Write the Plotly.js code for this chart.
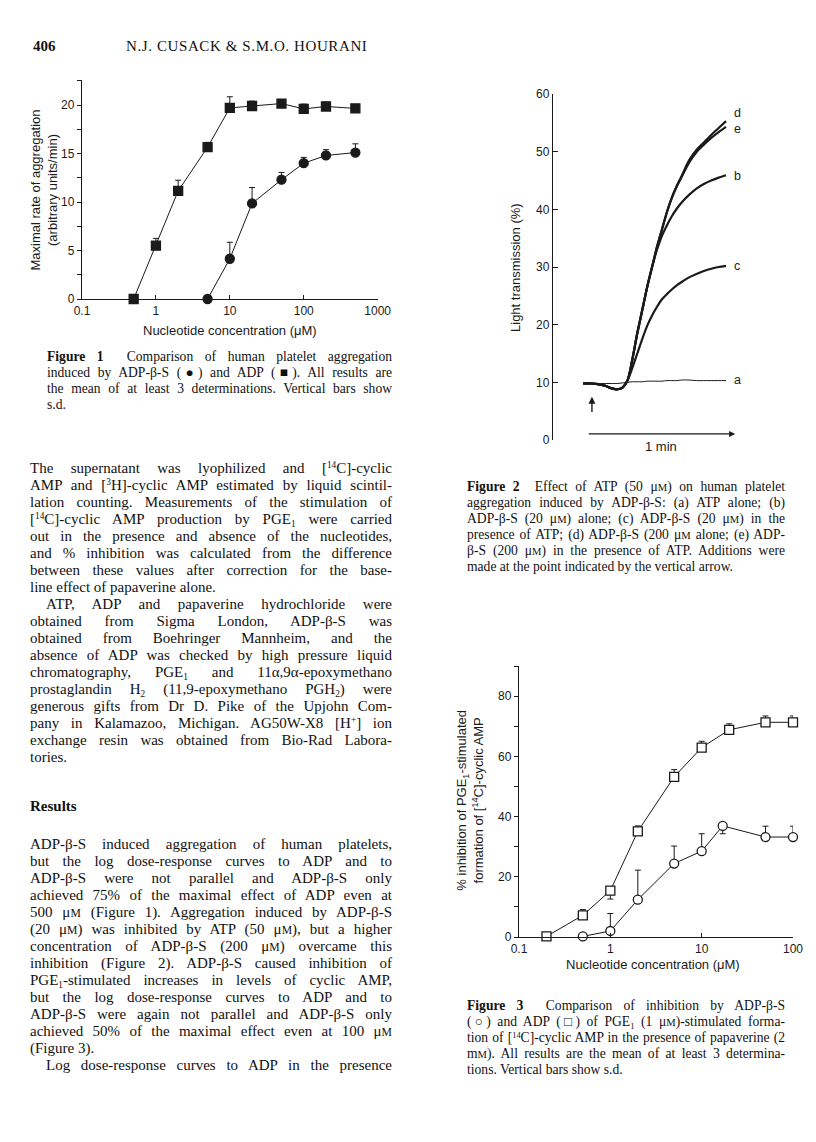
<!DOCTYPE html>
<html>
<head>
<meta charset="utf-8">
<script src="https://cdn.plot.ly/plotly-3.0.1.min.js"></script>
<style>
  body { margin: 0; background: #fff; }
  #page { position: relative; width: 816px; height: 1142px; overflow: hidden; color: #111; }
  .plot { position: absolute; }
  .serif { position: absolute; font-family: "Liberation Serif", "Times New Roman", serif; }
  .body div { height: 17px; line-height: 17px; font-size: 15px; white-space: nowrap; text-align: justify; text-align-last: justify; }
  .cap div { height: 16px; line-height: 16px; font-size: 13.6px; white-space: nowrap; text-align: justify; text-align-last: justify; }
  .serif div.last { text-align-last: left; }
  .serif div.ind { text-indent: 16px; }
  sup, sub { font-size: 0.62em; position: relative; vertical-align: 0; line-height: 0; }
  sup { top: -0.5em; }
  sub { top: 0.3em; }
  b { font-weight: bold; }
  .sc { font-size: 0.78em; }
</style>
</head>
<body>
<div id="page">

  <div class="serif" style="left:33px; top:38px; font-size:15px; font-weight:bold;">406</div>
  <div class="serif" style="left:126px; top:38px; font-size:15px; letter-spacing:0.6px;">N.J. CUSACK &amp; S.M.O. HOURANI</div>

  <div id="fig1" class="plot" style="left:0px; top:60px; width:400px; height:300px;"></div>
  <div id="fig2" class="plot" style="left:430px; top:80px; width:340px; height:380px;"></div>
  <div id="fig3" class="plot" style="left:430px; top:650px; width:380px; height:340px;"></div>

  <div class="serif cap" style="left:47px; top:349px; width:345px;">
    <div><b>Figure 1</b>&nbsp; Comparison of human platelet aggregation</div>
    <div>induced by ADP-β-S (●) and ADP (■). All results are</div>
    <div>the mean of at least 3 determinations. Vertical bars show</div>
    <div class="last">s.d.</div>
  </div>

  <div class="serif body" style="left:30px; top:460px; width:362px;">
    <div>The supernatant was lyophilized and [<sup>14</sup>C]-cyclic</div>
    <div>AMP and [<sup>3</sup>H]-cyclic AMP estimated by liquid scintil-</div>
    <div>lation counting. Measurements of the stimulation of</div>
    <div>[<sup>14</sup>C]-cyclic AMP production by PGE<sub>1</sub> were carried</div>
    <div>out in the presence and absence of the nucleotides,</div>
    <div>and % inhibition was calculated from the difference</div>
    <div>between these values after correction for the base-</div>
    <div class="last">line effect of papaverine alone.</div>
    <div class="ind">ATP, ADP and papaverine hydrochloride were</div>
    <div>obtained from Sigma London, ADP-β-S was</div>
    <div>obtained from Boehringer Mannheim, and the</div>
    <div>absence of ADP was checked by high pressure liquid</div>
    <div>chromatography, PGE<sub>1</sub> and 11α,9α-epoxymethano</div>
    <div>prostaglandin H<sub>2</sub> (11,9-epoxymethano PGH<sub>2</sub>) were</div>
    <div>generous gifts from Dr D. Pike of the Upjohn Com-</div>
    <div>pany in Kalamazoo, Michigan. AG50W-X8 [H<sup>+</sup>] ion</div>
    <div>exchange resin was obtained from Bio-Rad Labora-</div>
    <div class="last">tories.</div>
  </div>

  <div class="serif" style="left:30px; top:798px; font-size:15px; font-weight:bold;">Results</div>

  <div class="serif body" style="left:30px; top:836px; width:362px;">
    <div>ADP-β-S induced aggregation of human platelets,</div>
    <div>but the log dose-response curves to ADP and to</div>
    <div>ADP-β-S were not parallel and ADP-β-S only</div>
    <div>achieved 75% of the maximal effect of ADP even at</div>
    <div>500 μ<span class="sc">M</span> (Figure 1). Aggregation induced by ADP-β-S</div>
    <div>(20 μ<span class="sc">M</span>) was inhibited by ATP (50 μ<span class="sc">M</span>), but a higher</div>
    <div>concentration of ADP-β-S (200 μ<span class="sc">M</span>) overcame this</div>
    <div>inhibition (Figure 2). ADP-β-S caused inhibition of</div>
    <div>PGE<sub>1</sub>-stimulated increases in levels of cyclic AMP,</div>
    <div>but the log dose-response curves to ADP and to</div>
    <div>ADP-β-S were again not parallel and ADP-β-S only</div>
    <div>achieved 50% of the maximal effect even at 100 μ<span class="sc">M</span></div>
    <div class="last">(Figure 3).</div>
    <div class="ind">Log dose-response curves to ADP in the presence</div>
  </div>

  <div class="serif cap" style="left:467px; top:479px; width:318px;">
    <div><b>Figure 2</b>&nbsp; Effect of ATP (50 μ<span class="sc">M</span>) on human platelet</div>
    <div>aggregation induced by ADP-β-S: (a) ATP alone; (b)</div>
    <div>ADP-β-S (20 μ<span class="sc">M</span>) alone; (c) ADP-β-S (20 μ<span class="sc">M</span>) in the</div>
    <div>presence of ATP; (d) ADP-β-S (200 μ<span class="sc">M</span> alone; (e) ADP-</div>
    <div>β-S (200 μ<span class="sc">M</span>) in the presence of ATP. Additions were</div>
    <div class="last">made at the point indicated by the vertical arrow.</div>
  </div>

  <div class="serif cap" style="left:467px; top:998px; width:318px;">
    <div><b>Figure 3</b>&nbsp; Comparison of inhibition by ADP-β-S</div>
    <div>(○) and ADP (□) of PGE<sub>1</sub> (1 μ<span class="sc">M</span>)-stimulated forma-</div>
    <div>tion of [<sup>14</sup>C]-cyclic AMP in the presence of papaverine (2</div>
    <div>m<span class="sc">M</span>). All results are the mean of at least 3 determina-</div>
    <div class="last">tions. Vertical bars show s.d.</div>
  </div>
</div>

<script>
// ---- Figure 1: aggregation rate vs concentration ----
const fig1ConcAdp = [0.5, 1, 2, 5, 10, 20, 50, 100, 200, 500];
const fig1Adp = [0, 5.5, 11.15, 15.65, 19.7, 19.9, 20.15, 19.6, 19.85, 19.65];
const fig1AdpSd = [0, 0.75, 1.1, 0.5, 1.15, 0.5, 0.4, 0.5, 0.45, 0.3];
const fig1ConcBS = [5, 10, 20, 50, 100, 200, 500];
const fig1AdpBS = [0, 4.15, 9.85, 12.3, 14.0, 14.8, 15.1];
const fig1AdpBSSd = [0, 1.7, 1.65, 0.75, 0.6, 0.6, 0.9];
const fig1TickVals = [0.1, 1, 10, 100, 1000];
const fig1TickText = ['0.1', '1', '10', '100', '1000'];

// ---- Figure 2: aggregation traces (time in s, light transmission %) ----
const fig2Time = [0, 3, 6, 9, 12, 14, 16, 18, 20, 22, 24, 26, 28, 30, 32, 34, 36, 38, 40, 43, 46, 49, 52, 55, 58];
const fig2A = [9.8, 9.8, 9.8, 9.8, 9.8, 9.8, 9.9, 10.0, 10.1, 10.1, 10.1, 10.2, 10.2, 10.2, 10.2, 10.3, 10.3, 10.3, 10.4, 10.4, 10.3, 10.3, 10.3, 10.3, 10.3];
const fig2B = [9.8, 9.8, 9.7, 9.4, 8.9, 8.8, 9.1, 10.3, 14.0, 18.5, 22.5, 26.5, 30.0, 33.0, 35.4, 37.2, 38.8, 40.1, 41.2, 42.5, 43.6, 44.4, 45.0, 45.5, 45.9];
const fig2C = [9.8, 9.8, 9.7, 9.4, 8.9, 8.8, 9.1, 10.3, 12.5, 15.0, 17.5, 19.8, 21.6, 23.1, 24.4, 25.3, 26.1, 26.8, 27.4, 28.2, 28.8, 29.3, 29.7, 30.0, 30.2];
const fig2D = [9.8, 9.8, 9.7, 9.4, 8.9, 8.8, 9.1, 10.3, 14.0, 18.5, 22.5, 26.5, 30.0, 33.5, 36.5, 39.5, 42.0, 44.0, 45.8, 48.5, 50.3, 51.6, 52.9, 54.1, 55.3];
const fig2E = [9.8, 9.8, 9.7, 9.4, 8.9, 8.8, 9.1, 10.3, 14.0, 18.5, 22.5, 26.5, 30.0, 33.5, 36.5, 39.5, 42.0, 44.0, 45.6, 48.1, 49.9, 51.2, 52.4, 53.4, 54.3];
const fig2Labels = ['a', 'b', 'c', 'd', 'e'];
const fig2LabelY = [10.4, 45.8, 30.2, 56.7, 53.9];
const fig2AddTime = 3.6;      // point of addition (vertical arrow)
const fig2ScaleStart = 1.7;   // 1 min scale bar
const fig2ScaleLen = 60;

// ---- Figure 3: % inhibition of cyclic AMP formation ----
const fig3ConcAdp = [0.2, 0.5, 1, 2, 5, 10, 20, 50, 100];
const fig3Adp = [0.2, 7.2, 15.4, 35.1, 53.2, 62.9, 68.8, 71.3, 71.3];
const fig3AdpSdUp = [0, 1.9, 0, 1.8, 2.4, 2.1, 2.0, 2.1, 2.1];
const fig3AdpSdDown = [0, 0, 2.8, 0, 0, 0, 0, 0, 0];
const fig3ConcBS = [0.5, 1, 2, 5, 10, 17, 50, 100];
const fig3AdpBS = [0.2, 2.0, 12.4, 24.4, 28.5, 36.9, 33.2, 33.2];
const fig3AdpBSSdUp = [0, 5.8, 9.8, 5.8, 5.8, 0, 3.6, 3.6];
const fig3AdpBSSdDown = [0, 0, 0, 0, 0, 2.6, 0, 0];
const fig3TickVals = [0.1, 1, 10, 100];
const fig3TickText = ['0.1', '1', '10', '100'];

const INK = '#1a1a1a';
const FONT = { family: 'Liberation Sans, Arial, sans-serif', size: 12, color: INK };
const TITLE_FONT = { ...FONT, size: 13 };
const config = { staticPlot: true, displayModeBar: false };

const baseLayout = {
    paper_bgcolor: 'rgba(0,0,0,0)',
    plot_bgcolor: 'rgba(0,0,0,0)',
    font: FONT,
    showlegend: false,
};

function axisStyle(extra) {
    return {
        showline: true, linecolor: INK, linewidth: 1.2,
        showgrid: false, zeroline: false,
        ticklen: 4, tickcolor: INK, tickwidth: 1,
        ...extra,
    };
}

// paper-anchored label, centred on its point
function label(x, y, text, angle) {
    return { xref: 'paper', yref: 'paper', x, y, xanchor: 'center', yanchor: 'middle',
             textangle: angle || 0, showarrow: false, text, font: TITLE_FONT };
}

function errTrace(x, y, up, down, symbol, fill) {
    return {
        x, y,
        type: 'scatter',
        mode: 'lines+markers',
        cliponaxis: false,
        line: { color: INK, width: 1 },
        marker: { symbol, size: 9, color: fill, line: { color: INK, width: 1.3 } },
        error_y: {
            type: 'data', symmetric: false,
            array: up, arrayminus: down || up.map(() => 0),
            color: INK, thickness: 1, width: 3,
        },
    };
}

// Figure 1
Plotly.newPlot('fig1', [
    errTrace(fig1ConcAdp, fig1Adp, fig1AdpSd, null, 'square', INK),
    errTrace(fig1ConcBS, fig1AdpBS, fig1AdpBSSd, null, 'circle', INK),
], {
    ...baseLayout,
    width: 400, height: 300,
    margin: { l: 82, r: 22, t: 20, b: 61 },
    xaxis: axisStyle({ type: 'log', range: [-1, 3.005], ticks: 'inside', tickvals: fig1TickVals, ticktext: fig1TickText }),
    yaxis: axisStyle({ range: [0, 22.58], ticks: 'outside', tick0: 0, dtick: 5,
                       minor: { dtick: 2.5, ticks: 'outside', ticklen: 4, tickcolor: INK } }),
    annotations: [
        label(-0.127, 0.497, 'Maximal rate of aggregation<br>(arbitrary units/min)', -90),
        label(0.5, -0.143, 'Nucleotide concentration (μM)'),
    ],
}, config);

// Figure 2
const fig2Series = [fig2A, fig2B, fig2C, fig2D, fig2E];
const fig2EndT = fig2Time[fig2Time.length - 1];
Plotly.newPlot('fig2', fig2Series.map((ys, i) => ({
    x: fig2Time, y: ys,
    type: 'scatter', mode: 'lines',
    line: { color: INK, width: i === 0 ? 1 : 2.2, shape: 'spline', smoothing: 0.8 },
})), {
    ...baseLayout,
    width: 340, height: 380,
    margin: { l: 123, r: 25, t: 14, b: 20 },
    xaxis: { range: [-12.2, 65.7], visible: false },
    yaxis: axisStyle({ range: [0, 60], dtick: 10, ticks: 'inside', ticklen: 5 }),
    annotations: [
        ...fig2Labels.map((lab, i) => ({
            x: fig2EndT + 2.3, y: fig2LabelY[i], xanchor: 'left', yanchor: 'middle', showarrow: false,
            text: lab, font: { ...FONT, size: 12.5 },
        })),
        { x: fig2ScaleStart + fig2ScaleLen, y: 1.05, ax: fig2ScaleStart, ay: 1.05,
          axref: 'x', ayref: 'y', showarrow: true, arrowhead: 2, arrowsize: 1, arrowwidth: 1.2,
          arrowcolor: INK, text: '' },
        { x: fig2AddTime, y: 7.5, ax: fig2AddTime, ay: 4.6, axref: 'x', ayref: 'y',
          showarrow: true, arrowhead: 2, arrowsize: 1, arrowwidth: 1.4, arrowcolor: INK, text: '' },
        { xref: 'x', yref: 'paper', x: fig2ScaleStart + fig2ScaleLen / 2, y: -0.02,
          xanchor: 'center', yanchor: 'middle', showarrow: false, text: '1 min', font: TITLE_FONT },
        label(-0.198, 0.5, 'Light transmission (%)', -90),
    ],
}, config);

// Figure 3
Plotly.newPlot('fig3', [
    errTrace(fig3ConcAdp, fig3Adp, fig3AdpSdUp, fig3AdpSdDown, 'square', '#fff'),
    errTrace(fig3ConcBS, fig3AdpBS, fig3AdpBSSdUp, fig3AdpBSSdDown, 'circle', '#fff'),
], {
    ...baseLayout,
    width: 380, height: 340,
    margin: { l: 89, r: 17, t: 16, b: 53 },
    xaxis: axisStyle({ type: 'log', range: [-1, 2], ticks: 'inside', tickvals: fig3TickVals, ticktext: fig3TickText }),
    yaxis: axisStyle({ range: [0, 90], ticks: 'outside', tick0: 0, dtick: 20,
                       minor: { dtick: 10, ticks: 'outside', ticklen: 4, tickcolor: INK } }),
    annotations: [
        label(-0.177, 0.505, '% inhibition of PGE<sub>1</sub>-stimulated<br>formation of [<sup>14</sup>C]-cyclic AMP', -90),
        label(0.49, -0.103, 'Nucleotide concentration (μM)'),
    ],
}, config);
</script>
</body>
</html>
